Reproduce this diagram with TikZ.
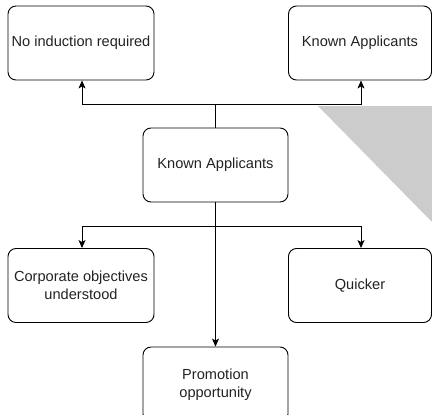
\documentclass[tikz,border=0pt]{standalone}
\usepackage{fontspec}
\setmainfont{Liberation Sans}
\usetikzlibrary{arrows.meta}
\definecolor{txt}{HTML}{222222}
\definecolor{tri}{HTML}{CCCCCC}
\begin{document}
\begin{tikzpicture}[x=1pt,y=-1pt,
  box/.style={draw=black, line width=0.9pt, rounded corners=8pt, minimum width=146pt, minimum height=74pt,
    align=center, inner sep=0pt, text=txt, font=\fontsize{14.6}{17.7}\selectfont},
  conn/.style={draw=black, line width=0.9pt},
  arr/.style={conn, -{Stealth[length=8pt,width=7pt,inset=2pt]}}]
\useasboundingbox (0,0) rectangle (432,415);
\clip (0,0) rectangle (432,415);
\fill[tri] (318,106) -- (432,106) -- (432,222) -- cycle;
\node[box] (A) at (81,43) {No induction required};
\node[box, minimum width=143pt] (B) at (360,43) {Known Applicants};
\node[box, minimum width=145pt] (C) at (215.5,165) {Known Applicants};
\node[box] (D) at (81,285.5) {Corporate objectives\\understood};
\node[box, minimum width=143pt] (E) at (360,285.5) {Quicker};
\node[box, minimum width=145pt, minimum height=75pt] (F) at (215.5,384.5) {Promotion\\opportunity};
\coordinate (j1) at (215.5,104);
\coordinate (j2) at (215.5,226);
\draw[conn] (C.north) -- (j1);
\draw[arr] (j1) -| ([xshift=1pt]A.south);
\draw[arr] (j1) -| ([xshift=1pt]B.south);
\draw[conn] (C.south) -- (j2);
\draw[arr] (j2) -| ([xshift=1pt]D.north);
\draw[arr] (j2) -| ([xshift=1pt]E.north);
\draw[arr] (j2) -- (F.north);
\end{tikzpicture}
\end{document}
